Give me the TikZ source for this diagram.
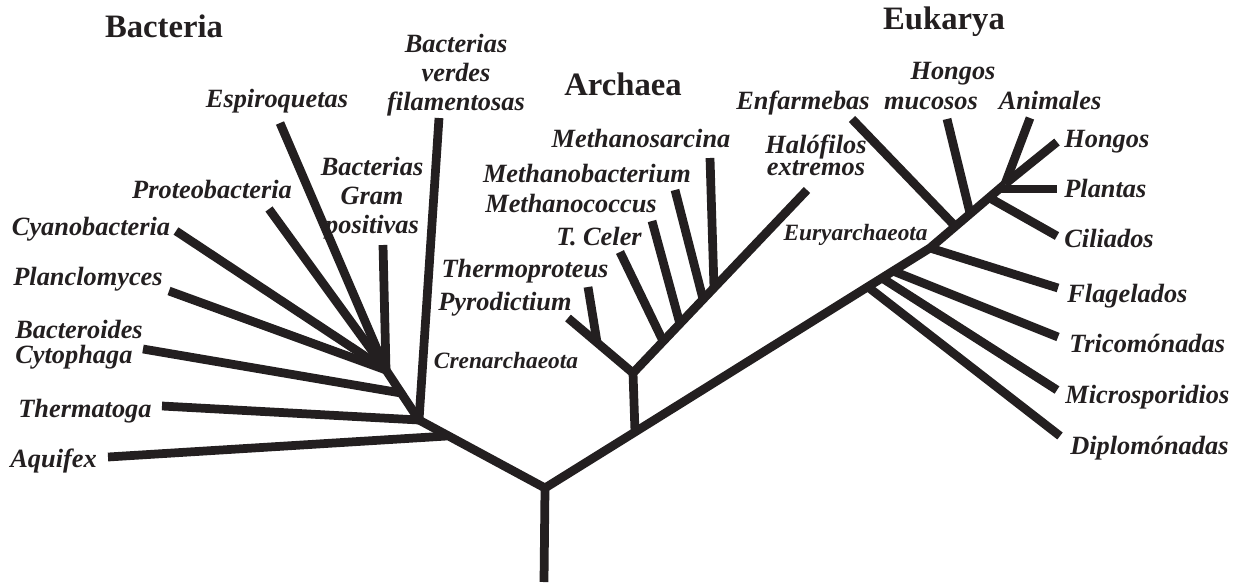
\documentclass[tikz,border=0pt]{standalone}
\usepackage{fontspec}
\setmainfont{Liberation Serif}
\definecolor{ink}{HTML}{231F20}

\begin{document}
\begin{tikzpicture}[x=0.02cm, y=-0.02cm,
    branch/.style={draw=ink, line width=0.175cm},
    taxon/.style={text=ink, inner sep=0pt, anchor=base, font=\fontsize{15}{16.5}\selectfont\bfseries\itshape},
    clade/.style={text=ink, inner sep=0pt, anchor=base, font=\fontsize{13.3}{15}\selectfont\bfseries\itshape},
    kingdom/.style={text=ink, inner sep=0pt, anchor=base, font=\fontsize{18.6}{20}\selectfont\bfseries}]
    \useasboundingbox (0,0) rectangle (1241,582);

    % Root and main stems
    \coordinate (base) at (544,582);
    \coordinate (root) at (545,488);
    \coordinate (bac0) at (419,420);
    \coordinate (bac1) at (401,393);
    \coordinate (bac2) at (386,370);
    \coordinate (arc0) at (635,432);
    \coordinate (arc1) at (633,373);
    \coordinate (euk0) at (930,248);
    \coordinate (euk1) at (1005,184);
    \draw[branch] (base) -- (root);
    \draw[branch] (root) -- (bac0) -- (bac2);
    \draw[branch] (root) -- (arc0) -- (euk0) -- (euk1);
    \draw[branch] (arc0) -- (arc1);

    % Bacteria
    \coordinate (aquifex) at (108,457);   \coordinate (aquJ) at (447,436);
    \coordinate (thermatoga) at (162,406);
    \coordinate (bacteroides) at (143,349);
    \coordinate (planclo) at (169,291);
    \coordinate (cyano) at (176,231);
    \coordinate (proteo) at (269,209);
    \coordinate (espiro) at (280,123);
    \coordinate (grampos) at (383,245);
    \coordinate (verdes) at (439,118);
    \draw[branch] (aquifex) -- (aquJ);
    \draw[branch] (thermatoga) -- (bac0);
    \draw[branch] (bacteroides) -- (bac1);
    \draw[branch] (planclo) -- (bac2);
    \draw[branch] (cyano) -- (bac2);
    \draw[branch] (proteo) -- (bac2);
    \draw[branch] (espiro) -- (bac2);
    \draw[branch] (grampos) -- (bac2);
    \draw[branch] (verdes) -- (bac0);

    % Archaea
    \coordinate (pyro) at (568,318);      \coordinate (pyroJ) at (597,342);
    \coordinate (thermopro) at (588,287);
    \coordinate (halo) at (807,190);
    \coordinate (tceler) at (620,252);    \coordinate (tcelerJ) at (663,341);
    \coordinate (mcoccus) at (652,221);   \coordinate (mcoccusJ) at (680,324);
    \coordinate (mbact) at (675,190);     \coordinate (mbactJ) at (703,299);
    \coordinate (msarc) at (710,158);     \coordinate (msarcJ) at (714,288);
    \draw[branch] (arc1) -- (pyro);
    \draw[branch] (thermopro) -- (pyroJ);
    \draw[branch] (arc1) -- (halo);
    \draw[branch] (tceler) -- (tcelerJ);
    \draw[branch] (mcoccus) -- (mcoccusJ);
    \draw[branch] (mbact) -- (mbactJ);
    \draw[branch] (msarc) -- (msarcJ);

    % Eukarya
    \coordinate (diplo) at (1060,436);    \coordinate (diploJ) at (868,287);
    \coordinate (micro) at (1057,390);    \coordinate (microJ) at (882,278);
    \coordinate (trico) at (1058,337);    \coordinate (tricoJ) at (893,271);
    \coordinate (flag) at (1058,288);
    \coordinate (enfar) at (852,119);     \coordinate (enfarJ) at (955,226);
    \coordinate (hmuc) at (947,119);      \coordinate (hmucJ) at (970,213);
    \coordinate (cil) at (1057,236);      \coordinate (cilJ) at (988,197);
    \coordinate (plant) at (1057,189);    \coordinate (plantJ) at (998,189);
    \coordinate (anim) at (1030,118);
    \coordinate (hongos) at (1057,142);
    \draw[branch] (diploJ) -- (diplo);
    \draw[branch] (microJ) -- (micro);
    \draw[branch] (tricoJ) -- (trico);
    \draw[branch] (euk0) -- (flag);
    \draw[branch] (enfar) -- (enfarJ);
    \draw[branch] (hmuc) -- (hmucJ);
    \draw[branch] (cilJ) -- (cil);
    \draw[branch] (plantJ) -- (plant);
    \draw[branch] (anim) -- (euk1);
    \draw[branch] (hongos) -- (euk1);

    % Domain titles
    \node[kingdom] (tBacteria) at (164,37) {Bacteria};
    \node[kingdom] (tArchaea) at (623,95) {Archaea};
    \node[kingdom] (tEukarya) at (944,29) {Eukarya};

    % Bacteria labels (multi-line nodes sit on their last line)
    \node[taxon, anchor=base west] (lAquifex) at (10,467) {Aquifex};
    \node[taxon, anchor=base west] (lThermatoga) at (18,417) {Thermatoga};
    \node[taxon, anchor=base west, align=left, font=\fontsize{15}{14.2}\selectfont\bfseries\itshape] (lBacteroides) at (15,363) {Bacteroides\\Cytophaga};
    \node[taxon] (lPlanclo) at (88,285) {Planclomyces};
    \node[taxon] (lCyano) at (91,235) {Cyanobacteria};
    \node[taxon] (lProteo) at (212,198) {Proteobacteria};
    \node[taxon] (lEspiro) at (277,107) {Espiroquetas};
    \node[taxon, align=center] (lGrampos) at (372,233) {Bacterias\\Gram\\positivas};
    \node[taxon, align=center] (lVerdes) at (456,110) {Bacterias\\verdes\\filamentosas};

    % Archaea labels
    \node[clade] (lCren) at (506,368) {Crenarchaeota};
    \node[taxon] (lPyro) at (505,310) {Pyrodictium};
    \node[taxon] (lThermopro) at (525,277) {Thermoproteus};
    \node[taxon] (lTceler) at (599,245) {T. Celer};
    \node[taxon] (lMcoccus) at (571,212) {Methanococcus};
    \node[taxon] (lMbact) at (587,182) {Methanobacterium};
    \node[taxon] (lMsarc) at (641,147) {Methanosarcina};
    \node[taxon, align=center, font=\fontsize{15}{12}\selectfont\bfseries\itshape] (lHalo) at (816,175) {Halófilos\\extremos};
    \node[clade, anchor=base east] (lEury) at (928,240) {Euryarchaeota};

    % Eukarya labels
    \node[taxon] (lEnfar) at (803,109) {Enfarmebas};
    \node[taxon, align=center, font=\fontsize{15}{17}\selectfont\bfseries\itshape] (lHmuc) at (931,109) {\hspace*{0.88cm}Hongos\\mucosos};
    \node[taxon] (lAnim) at (1050,109) {Animales};
    \node[taxon, anchor=base west] (lHongos) at (1064,147) {Hongos};
    \node[taxon, anchor=base west] (lPlant) at (1064,197) {Plantas};
    \node[taxon, anchor=base west] (lCil) at (1064,247) {Ciliados};
    \node[taxon, anchor=base west] (lFlag) at (1067,302) {Flagelados};
    \node[taxon, anchor=base west] (lTrico) at (1069,352) {Tricomónadas};
    \node[taxon, anchor=base west] (lMicro) at (1065,403) {Microsporidios};
    \node[taxon, anchor=base west] (lDiplo) at (1070,454) {Diplomónadas};
\end{tikzpicture}
\end{document}
